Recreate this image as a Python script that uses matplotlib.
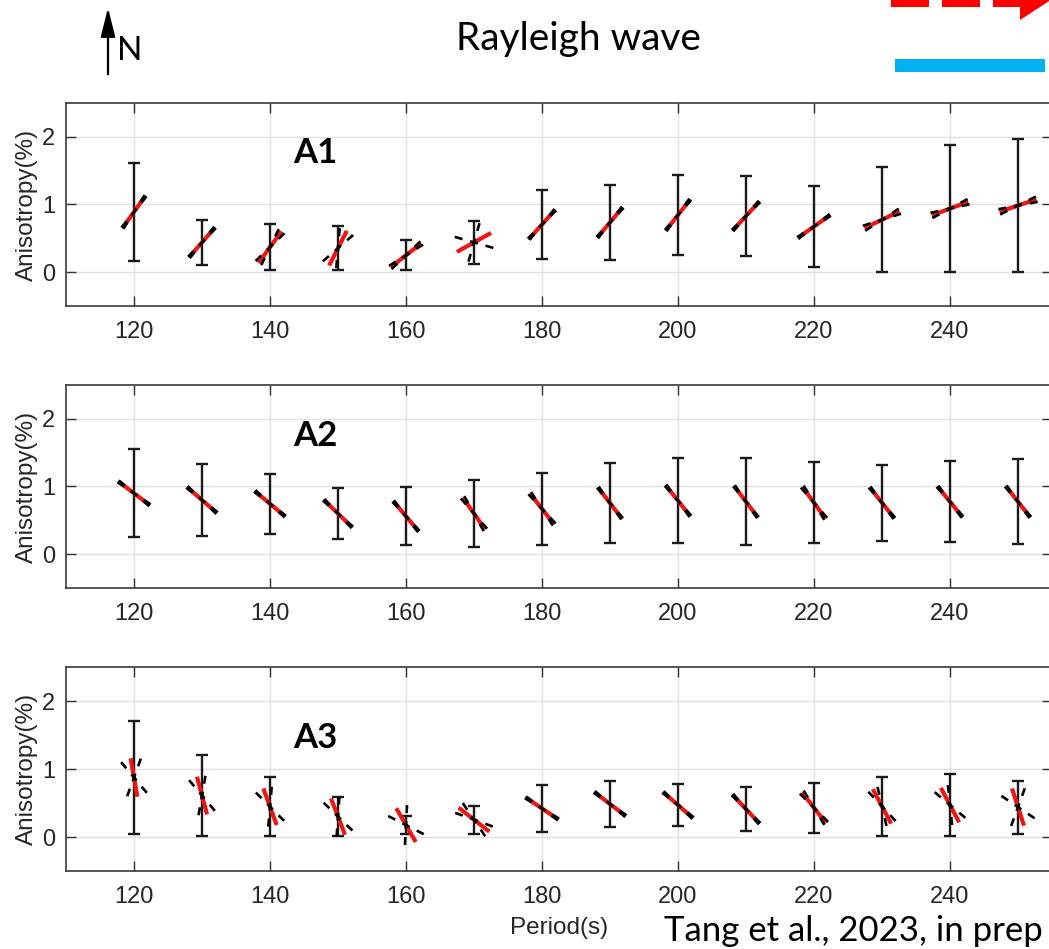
import matplotlib
matplotlib.use('Agg')
import matplotlib.pyplot as plt
from matplotlib.patches import Rectangle, Polygon, FancyArrowPatch
import numpy as np

# Period (s) of each measurement
periods = [120, 130, 140, 150, 160, 170, 180, 190, 200, 210, 220, 230, 240, 250]
xticks = [120, 140, 160, 180, 200, 220, 240]

# A1: anisotropy amplitude (%), its error, fast azimuth (deg from N) and azimuth error
a1_amp = [0.89, 0.44, 0.37, 0.355, 0.25, 0.44, 0.705, 0.735, 0.845, 0.83, 0.675, 0.775, 0.94, 0.985]
a1_err = [0.72, 0.33, 0.34, 0.325, 0.22, 0.32, 0.505, 0.555, 0.595, 0.59, 0.595, 0.775, 0.94, 0.985]
a1_azi = [35.5, 41, 36, 27, 52, 61, 42, 40, 38, 42.6, 54.5, 64.5, 69.6, 71.4]
a1_dazi = [3, 3, 10, 22, 6, 45, 3, 3, 3, 3, 3, 8, 8, 8]

# A2
a2_amp = [0.90, 0.80, 0.745, 0.60, 0.56, 0.60, 0.67, 0.755, 0.79, 0.775, 0.76, 0.76, 0.775, 0.775]
a2_err = [0.65, 0.53, 0.445, 0.38, 0.43, 0.49, 0.53, 0.585, 0.63, 0.645, 0.60, 0.56, 0.595, 0.625]
a2_azi = [127, 131, 130, 134, 140, 145, 142, 142.5, 141.5, 143, 144, 141.6, 141, 142]
a2_dazi = [3, 3, 3, 3, 3, 6, 5, 3, 3, 3, 5, 3, 3, 3]

# A3
a3_amp = [0.875, 0.61, 0.445, 0.30, 0.175, 0.255, 0.42, 0.485, 0.47, 0.41, 0.43, 0.45, 0.47, 0.44]
a3_err = [0.835, 0.60, 0.435, 0.29, 0.135, 0.205, 0.34, 0.345, 0.31, 0.32, 0.37, 0.43, 0.46, 0.39]
a3_azi = [170, 165, 160, 159, 150, 128, 124, 127.5, 131, 137, 142, 152, 152, 162]
a3_dazi = [30, 25, 25, 25, 33, 18, 3, 3, 3, 3, 7, 15, 22, 38]

panels = [
    ('A1', a1_amp, a1_err, a1_azi, a1_dazi, 1.76),
    ('A2', a2_amp, a2_err, a2_azi, a2_dazi, 1.75),
    ('A3', a3_amp, a3_err, a3_azi, a3_dazi, 1.45),
]

W, H = 1049, 949
fig = plt.figure(figsize=(W / 100, H / 100), dpi=100)
plt.rcParams['lines.scale_dashes'] = False

TXT = '#262626'
label_font = 'Liberation Sans'
title_font = 'Lato'

# top / bottom pixel rows of the three axes boxes
boxes = [(103, 306), (385, 588), (667, 871)]


def draw_bars(ax, amp, azi, dazi):
    # fast-direction bars drawn with a fixed length on screen
    inv = ax.transData.inverted()
    for p, a, t, dt in zip(periods, amp, azi, dazi):
        cx, cy = ax.transData.transform((p, a))

        def seg(theta, half):
            r = np.radians(theta)
            dx, dy = np.sin(r) * half, np.cos(r) * half
            return inv.transform([[cx - dx, cy - dy], [cx + dx, cy + dy]])

        s = seg(t, 19.5)
        ax.plot(s[:, 0], s[:, 1], color='#ee1515', lw=3.0,
                solid_capstyle='butt', zorder=3)
        for th in (t - dt, t + dt):
            s = seg(th, 20)
            ax.plot(s[:, 0], s[:, 1], color='black', lw=1.9,
                    linestyle=(0, (5.76, 5.76)), dash_capstyle='butt', zorder=4)


for (top, bottom), (name, amp, err, azi, dazi, ty) in zip(boxes, panels):
    ax = fig.add_axes([66 / W, 1 - bottom / H, (1052 - 66) / W, (bottom - top) / H])
    ax.set_xlim(110, 255)
    ax.set_ylim(-0.5, 2.5)
    ax.set_xticks(xticks)
    ax.set_yticks([0, 1, 2])
    ax.grid(True, color='#e0e0e0', lw=1)
    ax.set_axisbelow(True)
    ax.tick_params(direction='in', top=True, right=True, length=7, width=1,
                   color='#333333', labelcolor=TXT, labelsize=17)
    ax.tick_params(axis='x', pad=11)
    ax.tick_params(axis='y', pad=8)
    for lab in ax.get_xticklabels() + ax.get_yticklabels():
        lab.set_fontfamily(label_font)
    for sp in ax.spines.values():
        sp.set_color('#3a3a3a')
        sp.set_linewidth(1.2)
    ax.set_ylabel('Anisotropy(%)', fontsize=17.5, color=TXT,
                  family=label_font, labelpad=3)

    ax.errorbar(periods, amp, yerr=err, fmt='none', ecolor='#1a1a1a',
                elinewidth=1.7, capsize=4, capthick=1.7, zorder=2)
    draw_bars(ax, amp, azi, dazi)
    ax.text(146.6, ty, name, fontsize=25, fontweight='bold', family=title_font,
            ha='center', va='center', color='black')

ax.set_xlabel('Period(s)', fontsize=17.5, color=TXT, family=label_font, labelpad=6)


def fp(x, y):
    return x / W, 1 - y / H


# north arrow
fig.add_artist(FancyArrowPatch(fp(108, 77), fp(108, 5), transform=fig.transFigure,
                               arrowstyle='-|>,head_length=0.8,head_width=0.2',
                               mutation_scale=22, lw=1.6, color='black'))
fig.text(*fp(117, 60), 'N', fontsize=24, family=title_font, va='baseline', ha='left')

fig.text(*fp(578, 50), 'Rayleigh wave', fontsize=28, family=title_font,
         va='baseline', ha='center')
fig.text(*fp(664, 941), 'Tang et al., 2023, in prep', fontsize=25, family=title_font,
         va='baseline', ha='left')

# partially visible legend symbols at the top right
for x0, x1 in [(891, 929), (942, 980), (993, 1025)]:
    fig.add_artist(Rectangle(fp(x0, 7), (x1 - x0) / W, 13 / H,
                             transform=fig.transFigure, color='#ff0000', lw=0))
fig.add_artist(Polygon([fp(1020, 20), fp(1020, -19), fp(1050, 0.5)],
                       closed=True, transform=fig.transFigure, color='#ff0000', lw=0))
fig.add_artist(Rectangle(fp(895, 72), 150 / W, 13 / H, transform=fig.transFigure,
                         color='#00b0f0', lw=0))

fig.savefig('out.png', dpi=100)
